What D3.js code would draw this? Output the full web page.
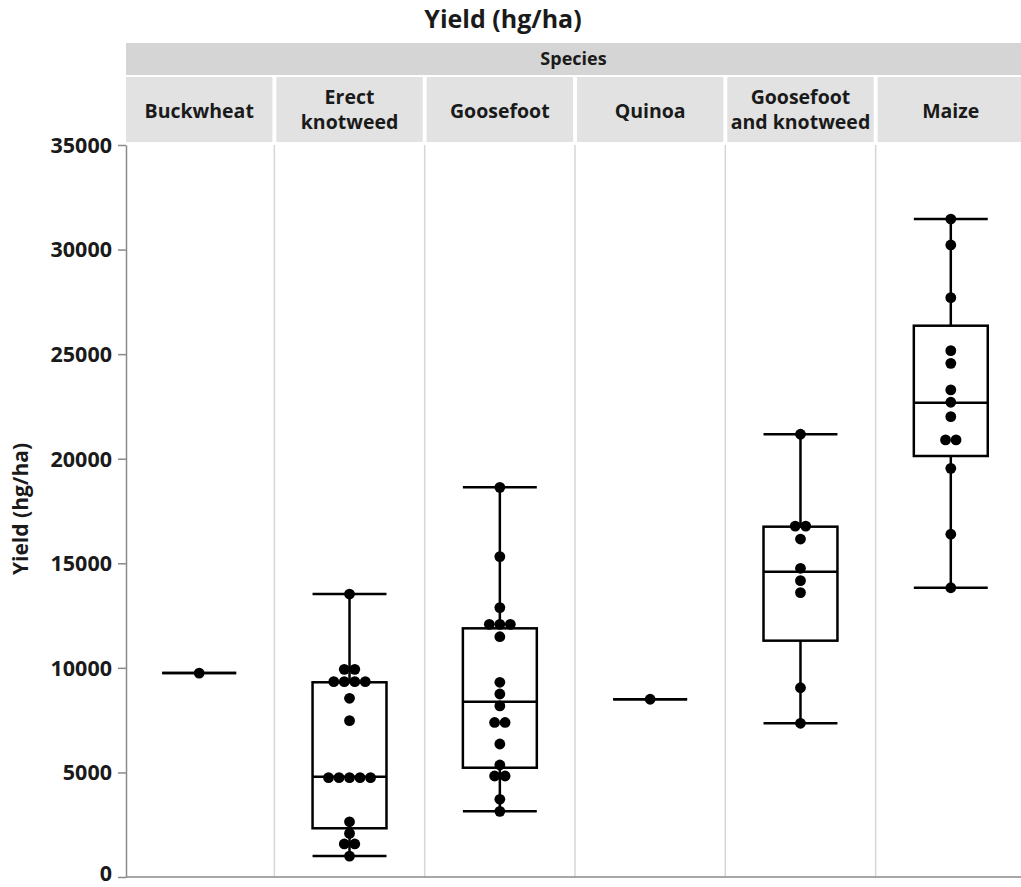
<!DOCTYPE html>
<html>
<head>
<meta charset="utf-8">
<script src="https://cdn.jsdelivr.net/npm/d3@7"></script>
<style>
  html, body { margin: 0; padding: 0; background: #fff; }
  svg { display: block; }
  text { font-family: "Open Sans", "Noto Sans", sans-serif; font-weight: 700; fill: #1a1a1a; }
</style>
</head>
<body>
<svg id="chart" width="1021" height="887"></svg>
<script>
// ---- Data ----
const species = ["Buckwheat", "Erect knotweed", "Goosefoot", "Quinoa", "Goosefoot and knotweed", "Maize"];
const speciesLabels = [["Buckwheat"], ["Erect", "knotweed"], ["Goosefoot"], ["Quinoa"], ["Goosefoot", "and knotweed"], ["Maize"]];

const buckwheatValues = [9750];
const erectKnotweedValues = [13530, 9930, 9930, 9340, 9340, 9340, 9340, 8545, 7475,
  4750, 4750, 4750, 4750, 4750, 2640, 2085, 1580, 1580, 1000];
const goosefootValues = [18630, 15320, 12880, 12080, 12080, 12080, 11490, 9310, 8750, 8180,
  7390, 7390, 6360, 5355, 4830, 4830, 3715, 3140];
const quinoaValues = [8500];
const goosefootKnotweedValues = [21170, 16780, 16780, 16160, 14760, 14170, 13600, 9050, 7350];
const maizeValues = [31460, 30220, 27700, 25165, 24560, 23290, 22700, 22010, 20900, 20900,
  19540, 16390, 13830];

// box statistics: [whisker low, Q1, median, Q3, whisker high]
const boxLow    = [9750, 1000, 3140, 8500, 7350, 13830];
const boxQ1     = [9750, 2330, 5225, 8500, 11300, 20130];
const boxMedian = [9750, 4790, 8380, 8500, 14600, 22680];
const boxQ3     = [9750, 9310, 11890, 8500, 16750, 26360];
const boxHigh   = [9750, 13530, 18630, 8500, 21170, 31460];

const yTicks = [0, 5000, 10000, 15000, 20000, 25000, 30000, 35000];
const titleText = "Yield (hg/ha)";
const stripText = "Species";

const seriesValues = [buckwheatValues, erectKnotweedValues, goosefootValues, quinoaValues, goosefootKnotweedValues, maizeValues];

// ---- Layout ----
const svg = d3.select("#chart");
const W = 1021, H = 887;
const plotLeft = 126, plotTop = 145, plotBottom = 877;

const x = d3.scaleBand().domain(species).range([plotLeft, 1024]).paddingInner(0.026).paddingOuter(0);
const y = d3.scaleLinear().domain([0, 35000]).range([plotBottom, plotTop]);

// Title
svg.append("text").attr("x", 503).attr("y", 28).attr("text-anchor", "middle")
  .style("font-size", "25px").text(titleText);

// Species strip
svg.append("rect").attr("x", plotLeft).attr("y", 43).attr("width", W - plotLeft).attr("height", 32)
  .attr("fill", "#d5d5d5");
svg.append("text").attr("x", (plotLeft + 1021) / 2).attr("y", 65).attr("text-anchor", "middle")
  .style("font-size", "18px").text(stripText);

// Facet strips
const strips = svg.append("g");
species.forEach((s, i) => {
  const x0 = x(s);
  strips.append("rect").attr("x", x0).attr("y", 77).attr("width", x.bandwidth()).attr("height", 65)
    .attr("fill", "#e2e2e2");
  const lines = speciesLabels[i];
  const cx = x0 + x.bandwidth() / 2;
  const t = strips.append("text").attr("text-anchor", "middle").style("font-size", "19.5px");
  if (lines.length === 1) {
    t.append("tspan").attr("x", cx).attr("y", 118).text(lines[0]);
  } else {
    t.append("tspan").attr("x", cx).attr("y", 104).text(lines[0]);
    t.append("tspan").attr("x", cx).attr("y", 129).text(lines[1]);
  }
});

// Panel separators
species.forEach((s, i) => {
  if (i === 0) return;
  const xs = x(s) - (x.step() - x.bandwidth()) / 2;
  svg.append("line").attr("x1", xs).attr("x2", xs).attr("y1", plotTop).attr("y2", plotBottom)
    .attr("stroke", "#d6d6d6").attr("stroke-width", 1.5);
});

// Y axis
const yAxis = d3.axisLeft(y).tickValues(yTicks).tickSize(8).tickSizeOuter(0).tickFormat(d3.format("d"));
const gy = svg.append("g").attr("transform", `translate(${plotLeft},0)`).call(yAxis);
gy.select(".domain").attr("stroke", "#8a8a8a").attr("stroke-width", 1.5);
gy.selectAll(".tick line").attr("stroke", "#8a8a8a").attr("stroke-width", 1.5);
gy.selectAll(".tick text").attr("x", -14)
  .attr("dy", d => d === 0 ? "0.16em" : "0.34em")
  .style("font-size", "21.5px")
  .style("font-family", "'Open Sans', sans-serif")
  .style("font-weight", "700").attr("fill", "#1a1a1a");

// Bottom baseline
svg.append("line").attr("x1", plotLeft).attr("x2", W).attr("y1", plotBottom).attr("y2", plotBottom)
  .attr("stroke", "#8a8a8a").attr("stroke-width", 1.5);

// Y axis title
svg.append("text").attr("transform", `translate(28,${(plotTop + plotBottom) / 2 - 2}) rotate(-90)`)
  .attr("text-anchor", "middle").style("font-size", "21px").text(titleText);

// Boxes
const boxW = x.bandwidth() * 0.505;
const g = svg.append("g");
species.forEach((s, i) => {
  const cx = x(s) + x.bandwidth() / 2;
  const st = { stroke: "#000", sw: 2.5 };
  g.append("line").attr("x1", cx).attr("x2", cx).attr("y1", y(boxLow[i])).attr("y2", y(boxHigh[i]))
    .attr("stroke", st.stroke).attr("stroke-width", st.sw);
  [boxLow[i], boxHigh[i]].forEach(v => {
    g.append("line").attr("x1", cx - boxW / 2).attr("x2", cx + boxW / 2).attr("y1", y(v)).attr("y2", y(v))
      .attr("stroke", st.stroke).attr("stroke-width", st.sw);
  });
  if (boxQ3[i] > boxQ1[i]) {
    g.append("rect").attr("x", cx - boxW / 2).attr("y", y(boxQ3[i])).attr("width", boxW)
      .attr("height", y(boxQ1[i]) - y(boxQ3[i])).attr("fill", "#fff")
      .attr("stroke", st.stroke).attr("stroke-width", st.sw);
    g.append("line").attr("x1", cx - boxW / 2).attr("x2", cx + boxW / 2)
      .attr("y1", y(boxMedian[i])).attr("y2", y(boxMedian[i]))
      .attr("stroke", st.stroke).attr("stroke-width", st.sw);
  }
  const groups = d3.group(seriesValues[i], v => v);
  const spacing = 10.5;
  groups.forEach((arr, v) => {
    arr.forEach((_, k) => {
      const off = (k - (arr.length - 1) / 2) * spacing;
      g.append("circle").attr("cx", cx + off).attr("cy", y(v)).attr("r", 5.4).attr("fill", "#000");
    });
  });
});
</script>
</body>
</html>
